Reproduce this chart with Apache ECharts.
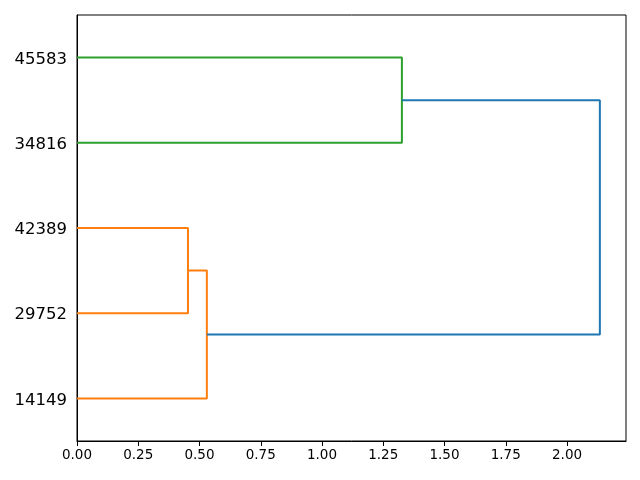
<!DOCTYPE html>
<html>
<head>
<meta charset="utf-8">
<script src="https://cdn.jsdelivr.net/npm/echarts@6/dist/echarts.min.js"></script>
<style>html,body{margin:0;padding:0;background:#fff}#c{width:640px;height:480px}</style>
</head>
<body>
<div id="c"></div>
<script>
// Leaves in dendrogram order (bottom to top)
const leafLabels = ['14149', '29752', '42389', '34816', '45583'];
// Merge steps: children: 'L<i>' leaf index, 'M<i>' merge index
const mergeLeft = ['L1', 'L0', 'L3', 'M1'];
const mergeRight = ['L2', 'M0', 'L4', 'M2'];
const mergeDist = [0.453, 0.530, 1.326, 2.134];
const mergeColor = ['#ff7f0e', '#ff7f0e', '#2ca02c', '#1f77b4'];
const xTicks = [0, 0.25, 0.5, 0.75, 1.0, 1.25, 1.5, 1.75, 2.0];

const leafPos = leafLabels.map((_, i) => 5 + 10 * i);
const mergePos = [];
function node(id) {
  const k = +id.slice(1);
  if (id[0] === 'L') return { y: leafPos[k], d: 0 };
  return { y: mergePos[k], d: mergeDist[k] };
}
const series = [];
for (let i = 0; i < mergeDist.length; i++) {
  const a = node(mergeLeft[i]), b = node(mergeRight[i]);
  mergePos[i] = (a.y + b.y) / 2;
  series.push({
    type: 'line',
    silent: true,
    symbol: 'none',
    animation: false,
    lineStyle: { color: mergeColor[i], width: 2 },
    data: [[a.d, a.y], [mergeDist[i], a.y], [mergeDist[i], b.y], [b.d, b.y]]
  });
}
const maxD = Math.max(...mergeDist) * 1.05;

const chart = echarts.init(document.getElementById('c'), null, { renderer: 'canvas' });
chart.setOption({
  backgroundColor: '#fff',
  animation: false,
  grid: { left: 77, right: 14, top: 15, bottom: 39, show: true, borderColor: '#000', borderWidth: 1, backgroundColor: 'transparent' },
  xAxis: {
    type: 'value', min: 0, max: maxD, interval: 0.25,
    axisLine: { show: true, lineStyle: { color: '#000', width: 1 } },
    axisTick: { show: true, length: 5, lineStyle: { color: '#000' }, customValues: xTicks },
    splitLine: { show: false },
    axisLabel: { color: '#000', fontSize: 13.5, fontFamily: 'DejaVu Sans', margin: 7,
      customValues: xTicks,
      formatter: v => v.toFixed(2) }
  },
  yAxis: {
    type: 'value', min: 0, max: 10 * leafLabels.length,
    axisLine: { show: true, lineStyle: { color: '#000', width: 1 } },
    axisTick: { show: false },
    splitLine: { show: false },
    axisLabel: { color: '#000', fontSize: 16.5, fontFamily: 'DejaVu Sans', margin: 10,
      customValues: leafPos,
      rich: { a: { color: '#000', fontSize: 16.5, fontFamily: 'DejaVu Sans', padding: [4, 0, 0, 0] } },
      formatter: v => { const i = leafPos.indexOf(v); return i >= 0 ? '{a|' + leafLabels[i] + '}' : ''; } }
  },
  series: series
});
</script>
</body>
</html>
